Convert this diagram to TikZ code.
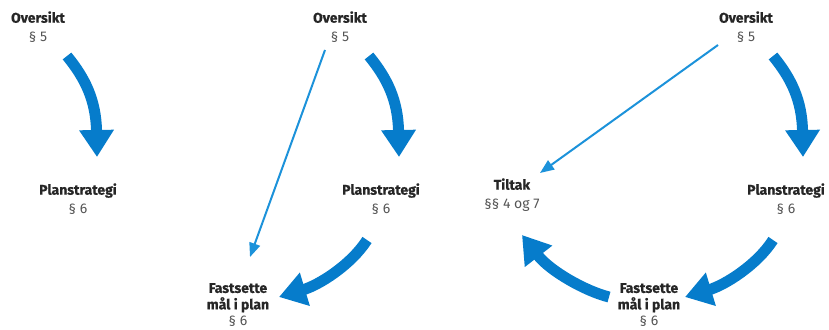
\documentclass[tikz,border=0pt]{standalone}
\usepackage{fontspec}
\setmainfont[BoldFeatures={FakeBold=0.6}]{Fira Sans}
\usetikzlibrary{arrows.meta}
\definecolor{arrowblue}{RGB}{6,124,203}
\definecolor{thinblue}{RGB}{28,146,218}
\definecolor{headtext}{RGB}{38,38,38}
\definecolor{subtext}{RGB}{85,85,85}
\begin{document}
\begin{tikzpicture}[x=1pt,y=-1pt,
  lbl/.style={align=center, font=\fontsize{14}{19}\selectfont, inner sep=0pt, text=subtext},
  tightlbl/.style={lbl, font=\fontsize{14}{16.5}\selectfont},
  bigarrow/.style={draw=arrowblue, line width=11pt, -{Triangle[width=33pt,length=27pt,fill=arrowblue]}},
  slimarrow/.style={draw=thinblue, line width=2pt, -{Triangle[width=11pt,length=14pt,fill=thinblue]}}]
\useasboundingbox (0,0) rectangle (829,329);
\newcommand{\hd}[1]{\textcolor{headtext}{\textbf{#1}}}
% Panel 1
\node[lbl] (ov1) at (38,27) {\hd{Oversikt}\\§ 5};
\node[lbl] (pl1) at (78,199) {\hd{Planstrategi}\\§ 6};
\coordinate (a1s) at (67,56);
\coordinate (a1e) at (97,157);
\draw[bigarrow] (a1s) .. controls (85,78) and (96,100) .. (a1e);
% Panel 2
\node[lbl] (ov2) at (340,27) {\hd{Oversikt}\\§ 5};
\node[lbl] (pl2) at (381,199) {\hd{Planstrategi}\\§ 6};
\node[tightlbl] (fa2) at (238,305) {\hd{Fastsette}\\\hd{mål i plan}\\§ 6};
\coordinate (b1s) at (369,56);
\coordinate (b1e) at (399,157);
\draw[bigarrow] (b1s) .. controls (387,78) and (398,100) .. (b1e);
\coordinate (b2s) at (367,240);
\coordinate (b2e) at (279,297);
\draw[bigarrow] (b2s) .. controls (351,265) and (319,285) .. (b2e);
\coordinate (b3s) at (325,50);
\coordinate (b3e) at (250,257);
\draw[slimarrow] (b3s) -- (b3e);
% Panel 3
\node[lbl] (ov3) at (746,27) {\hd{Oversikt}\\§ 5};
\node[lbl] (pl3) at (786,199) {\hd{Planstrategi}\\§ 6};
\node[tightlbl] (fa3) at (649,305) {\hd{Fastsette}\\\hd{mål i plan}\\§ 6};
\node[lbl] (ti3) at (512,195) {\hd{Tiltak}\\§§ 4 og 7};
\coordinate (c1s) at (773,56);
\coordinate (c1e) at (803,157);
\draw[bigarrow] (c1s) .. controls (791,78) and (802,100) .. (c1e);
\coordinate (c2s) at (773,240);
\coordinate (c2e) at (685,297);
\draw[bigarrow] (c2s) .. controls (757,265) and (725,285) .. (c2e);
\coordinate (c3s) at (609,297);
\coordinate (c3e) at (522,235);
\draw[bigarrow] (c3s) .. controls (585,291) and (550,271) .. (c3e);
\coordinate (c4s) at (718,45);
\coordinate (c4e) at (540,173);
\draw[slimarrow] (c4s) -- (c4e);
\end{tikzpicture}
\end{document}
